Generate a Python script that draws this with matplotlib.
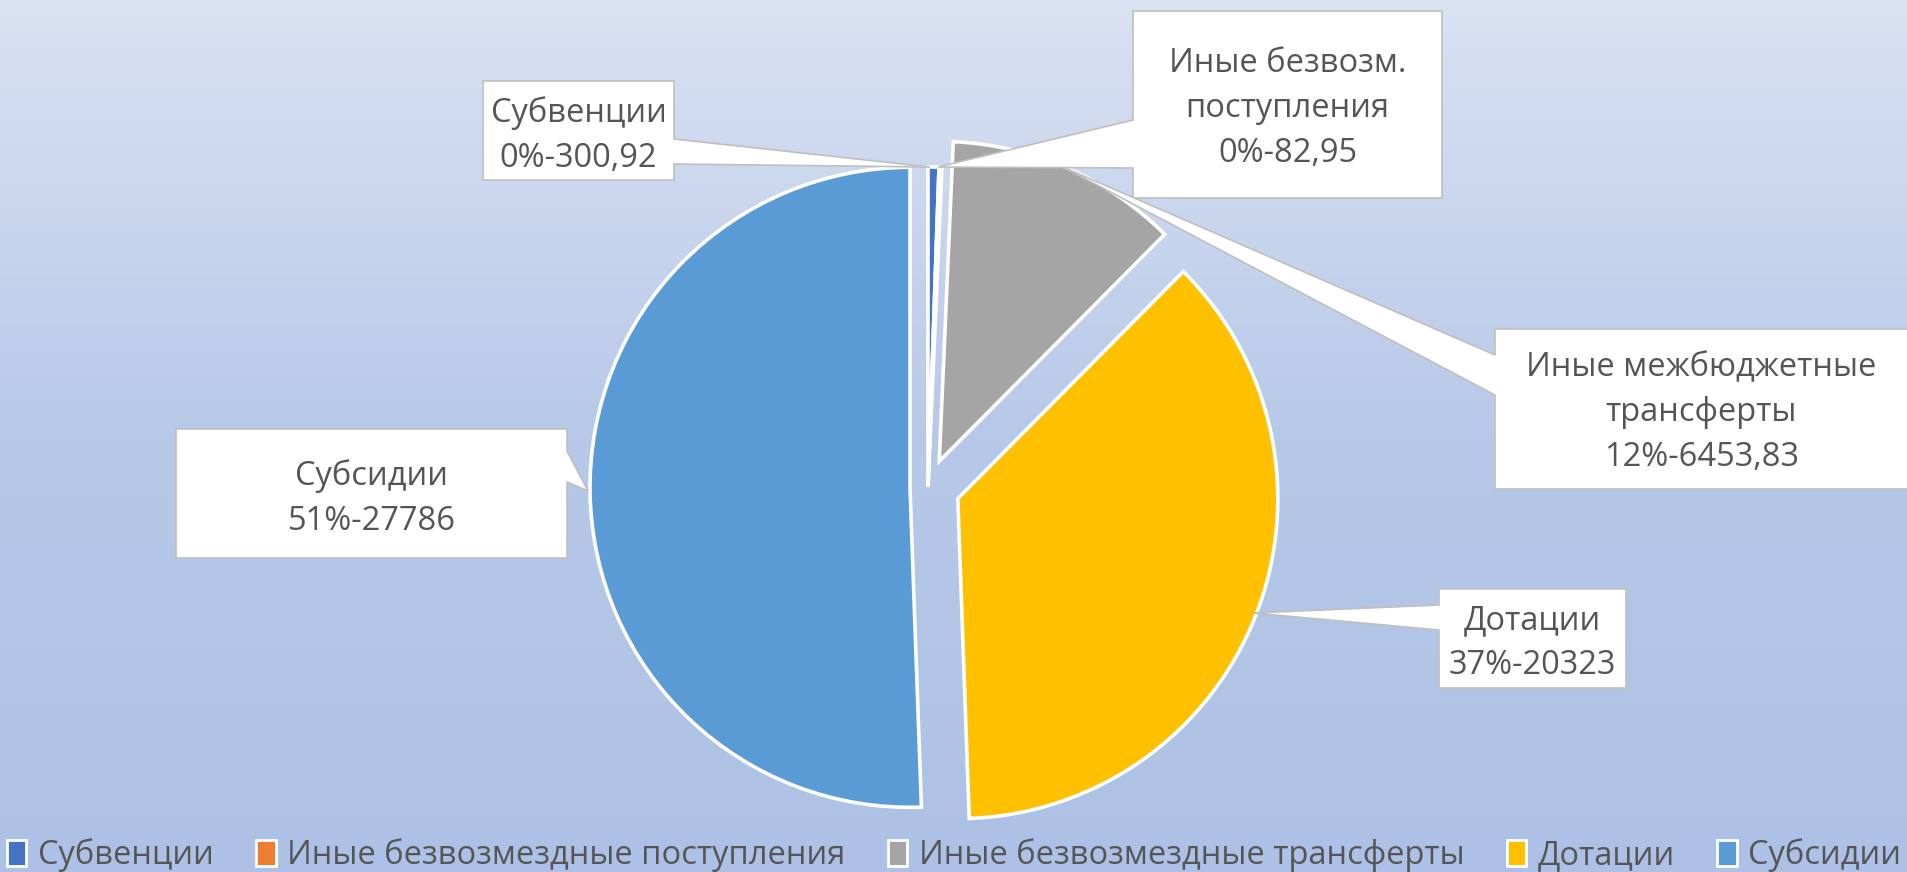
import matplotlib.pyplot as plt
import numpy as np
from matplotlib.patches import Patch, Polygon
from matplotlib.colors import LinearSegmentedColormap

plt.rcParams['font.family'] = ['Open Sans', 'DejaVu Sans']

# data
legend_names = ['Субвенции', 'Иные безвозмездные поступления',
                'Иные безвозмездные трансферты', 'Дотации', 'Субсидии']
label_names = ['Субвенции', 'Иные безвозм.\nпоступления',
               'Иные межбюджетные\nтрансферты', 'Дотации', 'Субсидии']
values = [300.92, 82.95, 6453.83, 20323, 27786]
pct_labels = [0, 0, 12, 37, 51]
colors = ['#4472C4', '#ED7D31', '#A5A5A5', '#FFC000', '#5B9BD5']

W, H = 1908, 872
TXT = '#555555'
FS = 23.5
R = 320
# explode distances in pixels (pie uses data units)
explode = [0, 0, 28, 32, 18]

# callout boxes in pixel coords (x0, y0, x1, y1), pointer side, base y's, tip
callouts = [
    ((483, 81, 674, 180), 'right', (139, 164), (930, 167)),
    ((1133, 11, 1442, 198), 'left', (120, 168), (938, 167)),
    ((1495, 329, 1912, 489), 'left', (355, 395), (1063, 167)),
    ((1439, 589, 1626, 688), 'left', (605, 630), (1253, 613)),
    ((176, 429, 567, 558), 'right', (451, 482), (588, 491)),
]
first_baseline = [122, 72, 376, 629, 485]

fig = plt.figure(figsize=(W / 100, H / 100), dpi=100)
ax = fig.add_axes([0, 0, 1, 1])

# background gradient
bg = LinearSegmentedColormap.from_list('bg', ['#ACC1E5', '#B7C9E8', '#DAE2F3'])
grad = np.linspace(0, 1, 256)[:, None]
ax.imshow(grad, aspect='auto', cmap=bg, extent=(0, W, 0, H), origin='lower', zorder=0)

ax.pie(values, colors=colors, explode=explode, startangle=90, counterclock=False,
       radius=R, center=(928, H - 487),
       wedgeprops=dict(edgecolor='white', linewidth=2.6), normalize=True)

def py(y):
    return H - y

for i, ((x0, y0, x1, y1), side, (b0, b1), (tx, ty)) in enumerate(callouts):
    if side == 'right':
        pts = [(x0, y0), (x1, y0), (x1, b0), (tx, ty), (x1, b1), (x1, y1), (x0, y1)]
    else:
        pts = [(x0, y0), (x1, y0), (x1, y1), (x0, y1), (x0, b1), (tx, ty), (x0, b0)]
    ax.add_patch(Polygon([(x, py(y)) for x, y in pts], closed=True, facecolor='white',
                         edgecolor='#BFBFBF', linewidth=1.2, zorder=5))
    lines = label_names[i].split('\n') + ['%d%%-%s' % (pct_labels[i], ('%g' % values[i]).replace('.', ','))]
    cx = (x0 + min(x1, W)) / 2
    for k, line in enumerate(lines):
        ax.text(cx, py(first_baseline[i] + 45 * k), line, ha='center', va='baseline',
                fontsize=FS, color=TXT, zorder=6)

ax.set_xlim(0, W)
ax.set_ylim(0, H)
ax.set_axis_off()

handles = [Patch(facecolor=c, edgecolor='white', linewidth=2) for c in colors]
fig.legend(handles, legend_names, loc='center', bbox_to_anchor=(0.5, 17 / H), ncol=5,
           frameon=False, fontsize=FS, labelcolor=TXT, handlelength=0.6, handleheight=0.85,
           handletextpad=0.35, columnspacing=1.3, borderaxespad=0, borderpad=0)

fig.savefig('out.png', dpi=100)
